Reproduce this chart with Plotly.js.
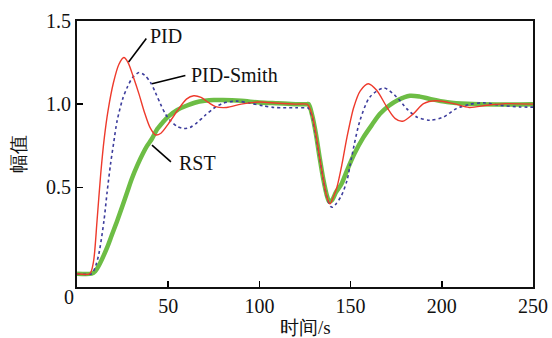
<!DOCTYPE html>
<html>
<head>
<meta charset="utf-8">
<script src="https://cdn.plot.ly/plotly-3.0.1.min.js"></script>
<style>html,body{margin:0;padding:0;background:#fff;}#chart{width:552px;height:338px;}</style>
</head>
<body>
<div id="chart"></div>
<script>
// ---- data ----
var tPID = [0, 7, 9, 11, 13, 15, 17, 20, 23, 25.7, 28, 31, 34, 37, 40, 43, 46, 50, 55, 60, 64, 68, 72, 76, 82, 90, 100, 110, 120, 126,
  127, 129, 131, 133, 135, 137, 138.7, 140.5, 142.5, 145.3, 148, 151.7, 155.3, 159.7, 164.3, 170, 174.5, 178.5, 184.5, 190, 197, 206.5, 215, 224.8, 235, 250];
var yPID = [-0.02, -0.02, 0.05, 0.30, 0.58, 0.80, 0.96, 1.13, 1.24, 1.28, 1.25, 1.16, 1.06, 0.95, 0.86, 0.815, 0.825, 0.88, 0.96, 1.03, 1.05, 1.04, 1.01, 0.985, 0.98, 1.0, 1.013, 1.005, 1.0, 1.0,
  0.99, 0.93, 0.82, 0.68, 0.55, 0.44, 0.40, 0.44, 0.50, 0.64, 0.80, 0.98, 1.08, 1.123, 1.083, 0.98, 0.913, 0.897, 0.943, 1.003, 1.02, 1.003, 0.98, 0.993, 1.003, 1.0];

var tSmith = [0, 8, 10, 12, 14.8, 16.5, 18.4, 20, 22, 25, 27.5, 30.5, 34, 37, 40.3, 43, 45.8, 48.5, 51.3, 55, 58.6, 62, 66, 70, 75, 80, 87.6, 95, 102, 108, 113, 120, 126,
  127, 129, 131, 133, 135, 137, 139, 140.2, 142, 145, 148, 150.6, 155.1, 160.6, 168.3, 175.2, 180.7, 186.2, 193.5, 201, 208, 215.4, 222.7, 232, 243, 250];
var ySmith = [-0.02, -0.02, 0.02, 0.10, 0.30, 0.47, 0.64, 0.76, 0.90, 1.03, 1.10, 1.16, 1.19, 1.175, 1.13, 1.07, 1.0, 0.94, 0.90, 0.865, 0.853, 0.86, 0.89, 0.93, 0.975, 1.005, 1.018, 1.005, 0.99, 0.98, 0.978, 0.978, 0.978,
  0.975, 0.92, 0.81, 0.68, 0.55, 0.44, 0.385, 0.38, 0.40, 0.45, 0.54, 0.683, 0.90, 1.043, 1.097, 1.043, 0.973, 0.923, 0.903, 0.923, 0.973, 0.999, 1.008, 0.993, 0.983, 0.982];

var tRST = [0, 8, 10, 12.5, 16.6, 19, 22.1, 25, 27.5, 30, 33, 36, 38.5, 41, 44, 47, 50, 55, 60, 65, 70, 75, 80, 90, 100, 110, 120, 126,
  127, 129, 131, 133, 135, 137, 138.3, 140, 142, 145, 148, 152, 157, 162, 166, 171, 176, 182.5, 188, 194, 203, 214, 230, 250];
var yRST = [-0.02, -0.02, -0.005, 0.04, 0.14, 0.21, 0.30, 0.39, 0.47, 0.55, 0.63, 0.70, 0.75, 0.79, 0.85, 0.89, 0.925, 0.965, 0.99, 1.01, 1.02, 1.025, 1.025, 1.02, 1.01, 1.005, 1.0, 1.0,
  1.0, 0.93, 0.82, 0.68, 0.55, 0.45, 0.413, 0.425, 0.47, 0.52, 0.60, 0.70, 0.80, 0.88, 0.94, 0.99, 1.025, 1.05, 1.045, 1.03, 1.012, 1.002, 0.998, 1.0];

var seriesNames = ['RST', 'PID-Smith', 'PID'];
var xTickVals = [50, 100, 150, 200, 250];
var xTickText = ['50', '100', '150', '200', '250'];
var yTickVals = [0.5, 1.0, 1.5];
var yTickText = ['0.5', '1.0', '1.5'];
var xTitle = '时间/s';
var yTitle = '幅值';
var originLabel = '0';

var serif = 'Liberation Serif';

var traces = [
  {x: tRST, y: yRST, name: seriesNames[0], mode: 'lines',
   line: {color: '#6dbd45', width: 4.5, shape: 'spline', smoothing: 0.8}},
  {x: tSmith, y: ySmith, name: seriesNames[1], mode: 'lines',
   line: {color: '#3c3c9c', width: 1.6, dash: 'dot', shape: 'spline', smoothing: 0.8}},
  {x: tPID, y: yPID, name: seriesNames[2], mode: 'lines',
   line: {color: '#ee3a2c', width: 1.4, shape: 'spline', smoothing: 0.8}}
];

var layout = {
  width: 552, height: 338,
  font: {family: serif, color: '#111'},
  margin: {l: 77, r: 19, t: 21, b: 51, pad: 0},
  paper_bgcolor: '#fff', plot_bgcolor: '#fff',
  showlegend: false,
  xaxis: {range: [0, 250], tickvals: xTickVals, ticktext: xTickText,
    ticks: 'inside', ticklen: 6, tickwidth: 1.5, tickcolor: '#000',
    showline: true, linewidth: 2, linecolor: '#111', mirror: true,
    showgrid: false, zeroline: false,
    tickfont: {family: serif, size: 20, color: '#111'}},
  yaxis: {range: [-0.1, 1.5], tickvals: yTickVals, ticktext: yTickText,
    ticks: 'inside', ticklen: 6, tickwidth: 1.5, tickcolor: '#000',
    showline: true, linewidth: 2, linecolor: '#111', mirror: true,
    showgrid: false, zeroline: false,
    tickfont: {family: serif, size: 20, color: '#111'}},
  shapes: [
    {type: 'line', xref: 'x', yref: 'y', x0: 28.3, y0: 1.253, x1: 38, y1: 1.395, line: {color: '#000', width: 1.6}},
    {type: 'line', xref: 'x', yref: 'y', x0: 41.1, y0: 1.123, x1: 59.4, y1: 1.172, line: {color: '#000', width: 1.6}},
    {type: 'line', xref: 'x', yref: 'y', x0: 41.1, y0: 0.753, x1: 51.5, y1: 0.653, line: {color: '#000', width: 1.6}}
  ],
  annotations: [
    {xref: 'x', yref: 'y', x: 49, y: 1.407, text: seriesNames[2], showarrow: false, xanchor: 'center', yanchor: 'middle',
     font: {family: serif, size: 20, color: '#111'}},
    {xref: 'x', yref: 'y', x: 86.2, y: 1.173, text: seriesNames[1], showarrow: false, xanchor: 'center', yanchor: 'middle',
     font: {family: serif, size: 20, color: '#111'}},
    {xref: 'x', yref: 'y', x: 66.2, y: 0.648, text: seriesNames[0], showarrow: false, xanchor: 'center', yanchor: 'middle',
     font: {family: serif, size: 20, color: '#111'}},
    {xref: 'paper', yref: 'paper', x: 0.5, y: -0.152, text: xTitle, showarrow: false, xanchor: 'center', yanchor: 'middle',
     font: {family: serif, size: 19, color: '#111'}},
    {xref: 'paper', yref: 'paper', x: -0.129, y: 0.5, text: yTitle, showarrow: false, textangle: -90, xanchor: 'center', yanchor: 'middle',
     font: {family: serif, size: 19, color: '#111'}},
    {xref: 'paper', yref: 'paper', x: -0.0175, y: -0.0375, text: originLabel, showarrow: false, xanchor: 'center', yanchor: 'middle',
     font: {family: serif, size: 20, color: '#111'}}
  ]
};

Plotly.newPlot('chart', traces, layout, {displayModeBar: false, staticPlot: true});
</script>
</body>
</html>
